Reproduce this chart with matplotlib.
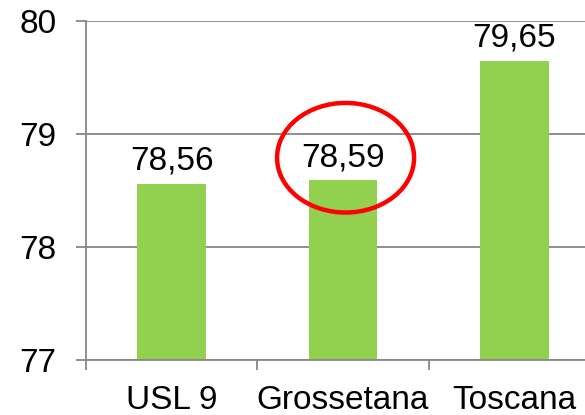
import matplotlib
matplotlib.use("Agg")
import matplotlib.pyplot as plt
from matplotlib.patches import Ellipse

categories = ["USL 9", "Grossetana", "Toscana"]
values = [78.56, 78.59, 79.65]
value_labels = ["78,56", "78,59", "79,65"]
yticks = [77, 78, 79, 80]
highlight = "Grossetana"

plt.rcParams['font.family'] = ['Liberation Sans', 'DejaVu Sans']

fig = plt.figure(figsize=(5.85, 4.15), dpi=100)
ax = fig.add_axes([86/585, 1-360/415, (600-86)/585, (360-21)/415])

grey = "#868686"
x = list(range(len(categories)))
ax.bar(x, [v - 77 for v in values], bottom=77, width=0.40, color="#92D050", zorder=3)
ax.set_xlim(-0.5, len(categories) - 0.5)
ax.set_ylim(77, 80)
ax.set_yticks(yticks)
ax.set_yticklabels([str(t) for t in yticks])
ax.yaxis.grid(True, color=grey, linewidth=1.3, zorder=0)
ax.set_axisbelow(True)

for xi, v, lab in zip(x, values, value_labels):
    ax.annotate(lab, (xi, v), xytext=(0, 5), textcoords="offset points",
                ha="center", va="bottom", fontsize=24, color="black", zorder=5)

ax.set_xticks(x)
ax.set_xticklabels(categories, fontsize=24)
ax.set_xticks([i - 0.5 for i in range(len(categories) + 1)], minor=True)
ax.tick_params(axis="x", which="major", length=0, pad=18)
ax.tick_params(axis="x", which="minor", length=7.2, width=1.3, color=grey)
ax.tick_params(axis="y", length=7.2, width=1.3, color=grey, labelsize=24, pad=14)

for s in ["top", "right"]:
    ax.spines[s].set_visible(False)
for s in ["left", "bottom"]:
    ax.spines[s].set_color(grey)
    ax.spines[s].set_linewidth(1.3)
    ax.spines[s].set_zorder(4)

hi = categories.index(highlight)
ell = Ellipse((hi + 0.015, values[hi] + 0.2), width=0.80, height=0.97,
              fill=False, edgecolor="#FF0000", linewidth=3.2, zorder=6, clip_on=False)
ax.add_patch(ell)

fig.savefig("out.png", dpi=100)
